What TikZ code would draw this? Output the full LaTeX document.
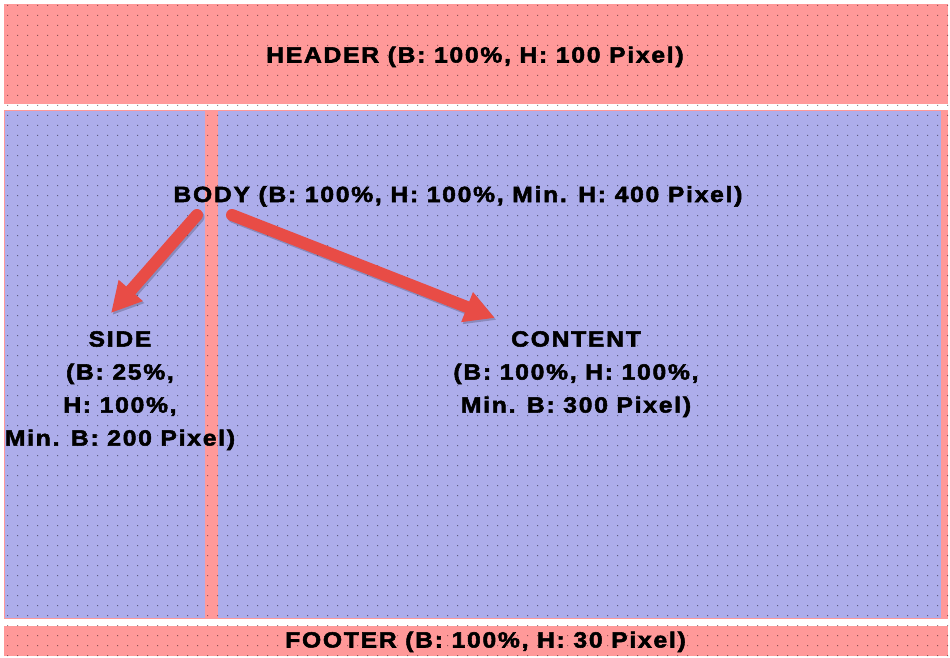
\documentclass[tikz,border=0pt]{standalone}
\usepackage{fontspec}
\newfontfamily\lblfont{Liberation Sans}[LetterSpace=8,FakeStretch=1.12,FakeBold=2.4]
\usetikzlibrary{arrows.meta}
\definecolor{boxpink}{RGB}{255,153,153}
\definecolor{boxblue}{RGB}{173,173,235}
\definecolor{arrowred}{RGB}{232,76,70}

\begin{document}
\begin{tikzpicture}[x=1pt,y=-1pt,
    lbl/.style={font=\lblfont\bfseries\fontsize{22}{33}\selectfont,inner sep=0pt,align=center},
    bigarrow/.style={draw=arrowred,line width=12pt,line cap=round,-{Triangle[length=30pt,width=30pt]}},
    shadowarrow/.style={draw=black,opacity=.2,line width=12pt,line cap=round,-{Triangle[length=30pt,width=30pt]}}]
  \useasboundingbox[fill=white] (0,0) rectangle (950,658);
  % boxes
  \fill[boxpink] (4,4) rectangle (948,104);
  \fill[boxpink] (4,110) rectangle (948,619);
  \fill[boxblue] (5,111) rectangle (205,618);
  \fill[boxblue] (218,111) rectangle (941,618);
  \fill[boxpink] (4,626) rectangle (948,656);
  % dot raster
  \fill[black,opacity=.45] \foreach \i in {0,...,94}{\foreach \j in {0,...,65}{(7+10*\i,5+10*\j) rectangle ++(1,1)}};
  % labels
  \node[lbl,anchor=base] (header) at (475,62.5) {HEADER (B: 100\%, H: 100 Pixel)};
  \node[lbl,anchor=base] (body) at (458,202) {BODY (B: 100\%, H: 100\%, Min. H: 400 Pixel)};
  \node[lbl,anchor=north] (side) at (120,331) {SIDE\\(B: 25\%,\\H: 100\%,\\Min. B: 200 Pixel)};
  \node[lbl,anchor=north] (content) at (576,331) {CONTENT\\(B: 100\%, H: 100\%,\\Min. B: 300 Pixel)};
  \node[lbl,anchor=base] (footer) at (485.5,647.5) {FOOTER (B: 100\%, H: 30 Pixel)};
  % arrows
  \coordinate (sidestart) at (197,215);
  \coordinate (sidetip) at (111,313);
  \coordinate (contentstart) at (232,215);
  \coordinate (contenttip) at (495,318);
  \draw[shadowarrow,transform canvas={shift={(1.5pt,-2pt)}}] (sidestart) -- (sidetip);
  \draw[shadowarrow,transform canvas={shift={(1.5pt,-2pt)}}] (contentstart) -- (contenttip);
  \draw[bigarrow] (sidestart) -- (sidetip);
  \draw[bigarrow] (contentstart) -- (contenttip);
\end{tikzpicture}
\end{document}
